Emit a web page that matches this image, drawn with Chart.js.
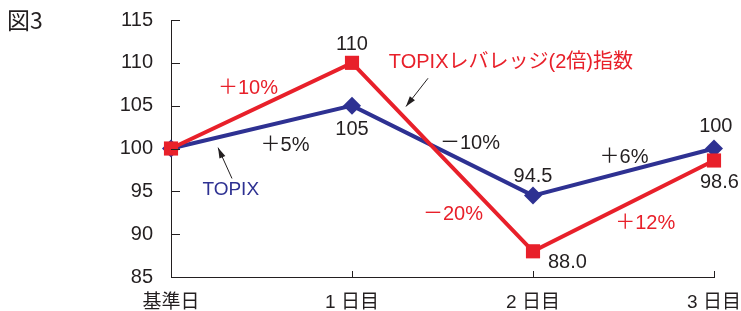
<!DOCTYPE html>
<html><head><meta charset="utf-8">
<script src="https://cdn.jsdelivr.net/npm/chart.js@4.4.1/dist/chart.umd.min.js"></script>
<style>html,body{margin:0;padding:0;background:#fff}#wrap{position:relative;width:741px;height:311px}</style>
</head><body><div id="wrap"><canvas id="c" width="741" height="311"></canvas></div>
<script>
const categories = ["基準日", "1 日目", "2 日目", "3 日目"];
const topix = [100, 105, 94.5, 100];
const leveraged = [100, 110, 88.0, 98.6];
const yTicks = [85, 90, 95, 100, 105, 110, 115];
// annotation text anchored in data coordinates [category index, value]
const valueLabels = [
  {t:"110", x:1, y:112.1},
  {t:"105", x:1, y:102.2},
  {t:"94.5", x:2, y:96.7},
  {t:"88.0", x:2.19, y:86.75},
  {t:"100", x:3.01, y:102.6},
  {t:"98.6", x:3.03, y:96.0}
];
const changeLabels = [
  {t:"＋10%", x:0.425, y:107.06, s:"L"},
  {t:"＋5%", x:0.63, y:100.4, s:"T"},
  {t:"－10%", x:1.652, y:100.6, s:"T"},
  {t:"－20%", x:1.558, y:92.35, s:"L"},
  {t:"＋6%", x:2.503, y:99.0, s:"T"},
  {t:"＋12%", x:2.62, y:91.3, s:"L"}
];
const seriesNames = ["TOPIX", "TOPIXレバレッジ(2倍)指数"];

const RED = "#e8202a", BLUE = "#2e3192", INK = "#231f20";
const FONT = "'Liberation Sans', Arial, 'Noto Sans CJK JP', sans-serif";

const annot = {
  id: "annot",
  afterDraw(chart) {
    const ctx = chart.ctx, xs = chart.scales.x, ys = chart.scales.y, a = chart.chartArea;
    ctx.save();
    // inward tick marks
    ctx.strokeStyle = INK; ctx.lineWidth = 1;
    ys.ticks.forEach(tk => {
      const py = Math.round(ys.getPixelForValue(tk.value)) + 0.5;
      ctx.beginPath(); ctx.moveTo(a.left, py); ctx.lineTo(a.left + 9, py); ctx.stroke();
    });
    categories.forEach((c, i) => {
      if (i === 0) return;
      const px = Math.round(xs.getPixelForValue(i)) + 0.5;
      ctx.beginPath(); ctx.moveTo(px, a.bottom); ctx.lineTo(px, a.bottom - 6); ctx.stroke();
    });
    const P = (x, y) => [xs.getPixelForValue(0) + (xs.getPixelForValue(1) - xs.getPixelForValue(0)) * x, ys.getPixelForValue(y)];
    ctx.textAlign = "center"; ctx.textBaseline = "middle";
    ctx.font = "20px " + FONT;
    valueLabels.forEach(l => { const [px, py] = P(l.x, l.y); ctx.fillStyle = INK; ctx.fillText(l.t, px, py); });
    changeLabels.forEach(l => {
      const [px, py] = P(l.x, l.y);
      ctx.fillStyle = l.s === "L" ? RED : INK;
      ctx.fillText(l.t, px, py);
    });
    // series name labels
    ctx.font = "19px " + FONT;
    let [tx, ty] = P(0.33, 95.2);
    ctx.fillStyle = BLUE; ctx.fillText(seriesNames[0], tx, ty);
    ctx.font = "20px " + FONT;
    [tx, ty] = P(1.878, 110.0);
    ctx.fillStyle = RED; ctx.fillText(seriesNames[1], tx, ty);
    // arrows
    const arrow = (x1, y1, x2, y2) => {
      const [ax, ay] = P(x1, y1), [bx, by] = P(x2, y2);
      ctx.strokeStyle = INK; ctx.fillStyle = INK; ctx.lineWidth = 1;
      ctx.beginPath(); ctx.moveTo(ax, ay); ctx.lineTo(bx, by); ctx.stroke();
      const ang = Math.atan2(by - ay, bx - ax), L = 11, W = 0.3;
      ctx.beginPath(); ctx.moveTo(bx, by);
      ctx.lineTo(bx - L * Math.cos(ang - W), by - L * Math.sin(ang - W));
      ctx.lineTo(bx - L * Math.cos(ang + W), by - L * Math.sin(ang + W));
      ctx.closePath(); ctx.fill();
    };
    arrow(0.337, 96.5, 0.26, 100.1);
    arrow(1.42, 108.2, 1.298, 104.9);
    // figure title
    ctx.font = "23px 'Noto Sans CJK JP', sans-serif";
    ctx.textAlign = "left"; ctx.fillStyle = INK;
    ctx.fillText("図3", 7, 20);
    ctx.restore();
  }
};

new Chart(document.getElementById("c"), {
  type: "line",
  data: {
    labels: categories,
    datasets: [
      {label: seriesNames[0], data: topix, borderColor: BLUE, backgroundColor: BLUE, borderWidth: 4, order: 1,
       pointStyle: "rectRot", pointRadius: 9, pointHoverRadius: 9, pointBorderWidth: 0, tension: 0},
      {label: seriesNames[1], data: leveraged, borderColor: RED, backgroundColor: RED, borderWidth: 4, order: 0,
       pointStyle: "rect", pointRadius: 10, pointHoverRadius: 10, pointBorderWidth: 0, tension: 0}
    ]
  },
  options: {
    responsive: false, animation: false, devicePixelRatio: 1,
    layout: {padding: {left: 0, right: 27, top: 20, bottom: 0}},
    plugins: {legend: {display: false}, tooltip: {enabled: false}, title: {display: false}},
    scales: {
      x: {
        type: "category", offset: false,
        grid: {display: false, drawTicks: false},
        border: {display: true, color: INK, width: 1},
        ticks: {color: INK, font: {size: 19, family: FONT}, padding: 14, maxRotation: 0, autoSkip: false},
        afterFit(s) { s.height = 34; s.paddingLeft = 0; s.paddingRight = 0; }
      },
      y: {
        min: 85, max: 115,
        afterBuildTicks(s) { s.ticks = yTicks.map(v => ({value: v})); },
        grid: {display: false, drawTicks: false},
        border: {display: true, color: INK, width: 1},
        ticks: {color: INK, font: {size: 20, family: FONT}, padding: 18},
        afterFit(s) { s.width = 171; s.paddingTop = 0; s.paddingBottom = 0; }
      }
    }
  },
  plugins: [annot]
});
</script></body></html>
